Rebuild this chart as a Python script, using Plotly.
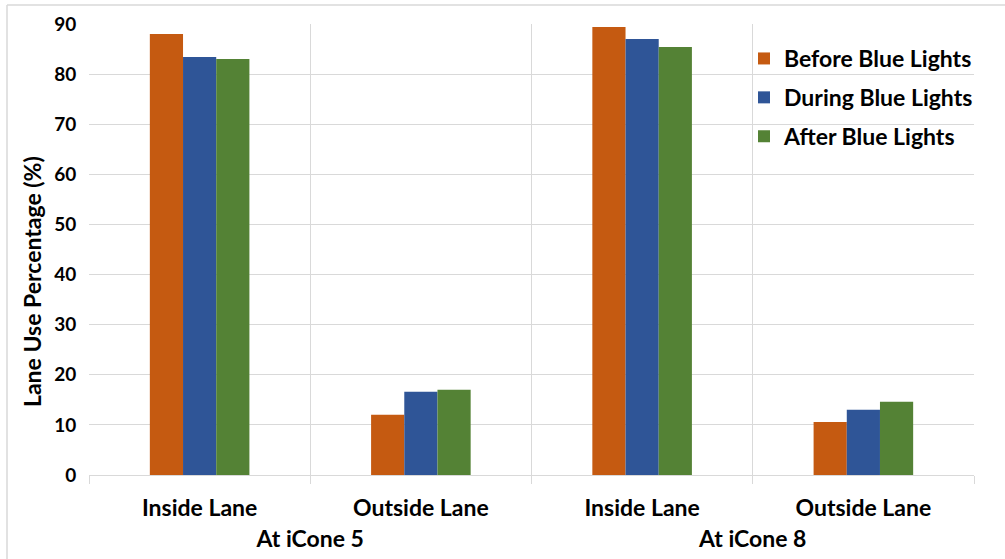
import plotly.graph_objects as go

sites = ["At iCone 5", "At iCone 5", "At iCone 8", "At iCone 8"]
lanes = ["Inside Lane", "Outside Lane", "Inside Lane", "Outside Lane"]
series_names = ["Before Blue Lights", "During Blue Lights", "After Blue Lights"]
before = [88.0, 12.0, 89.4, 10.6]
during = [83.4, 16.6, 87.0, 13.0]
after = [83.0, 17.0, 85.4, 14.6]
colors = ["#C55A11", "#2F5597", "#548235"]
y_ticks = [0, 10, 20, 30, 40, 50, 60, 70, 80, 90]

FONT = "Lato"
W, H = 1005, 559
L, R, T, B = 89, 31, 24, 84
pw, ph = W - L - R, H - T - B

def px2x(px):
    return (px - L) / pw

def px2y(py):
    return (H - B - py) / ph

# taller no-break-space struts on both sides of each lane label widen the gap to the site row
strut = '<span style="font-size:38px">\u00a0</span>'
lane_labels = [f"{strut}{lane}{strut}" for lane in lanes]

fig = go.Figure()
for name, vals, col in zip(series_names, [before, during, after], colors):
    fig.add_trace(go.Bar(x=[sites, lane_labels], y=vals, name=name, marker_color=col,
                         marker_line_width=0, legendgroup=name))

grid = "#D9D9D9"
fig.update_layout(
    width=W, height=H,
    margin=dict(l=L, r=R, t=T, b=B, autoexpand=False),
    paper_bgcolor="white", plot_bgcolor="white",
    font=dict(family=FONT, color="black"),
    barmode="group", bargap=0.55, bargroupgap=0,
    showlegend=True,
    legend=dict(x=px2x(744), y=px2y(37), xanchor="left", yanchor="top",
                bgcolor="rgba(0,0,0,0)", font=dict(size=23, family=FONT, color="black", weight="bold"),
                traceorder="grouped", tracegroupgap=6, itemwidth=30),
    xaxis=dict(type="multicategory", tickson="boundaries", showgrid=True, gridcolor=grid, gridwidth=1.3,
               ticks="outside", ticklen=8, tickcolor=grid, tickwidth=1.3, showdividers=False,
               showline=False, ticklabelstandoff=17,
               tickfont=dict(size=23, family=FONT, color="black", weight="bold")),
    yaxis=dict(range=[0, 90], tickvals=y_ticks, showgrid=True, gridcolor=grid, gridwidth=1.3,
               zeroline=True, zerolinecolor=grid, zerolinewidth=1.3, showline=False,
               ticks="outside", ticklen=8, tickcolor="rgba(0,0,0,0)",
               tickfont=dict(size=19, family=FONT, color="black", weight="bold")),
    annotations=[dict(text="Lane Use Percentage (%)", x=px2x(32), y=px2y(282), xref="paper", yref="paper",
                      textangle=-90, showarrow=False, xanchor="center", yanchor="middle",
                      font=dict(size=23, family=FONT, color="black", weight="bold"))],
    shapes=[
        dict(type="line", xref="paper", yref="paper", x0=px2x(7), x1=px2x(1010), y0=px2y(5), y1=px2y(5),
             line=dict(color=grid, width=1.5)),
        dict(type="line", xref="paper", yref="paper", x0=px2x(7), x1=px2x(7), y0=px2y(5), y1=px2y(565),
             line=dict(color=grid, width=1.5)),
    ],
)

fig.write_html("out.html", config={"displayModeBar": False},
               post_script="document.body.style.margin='0';")
